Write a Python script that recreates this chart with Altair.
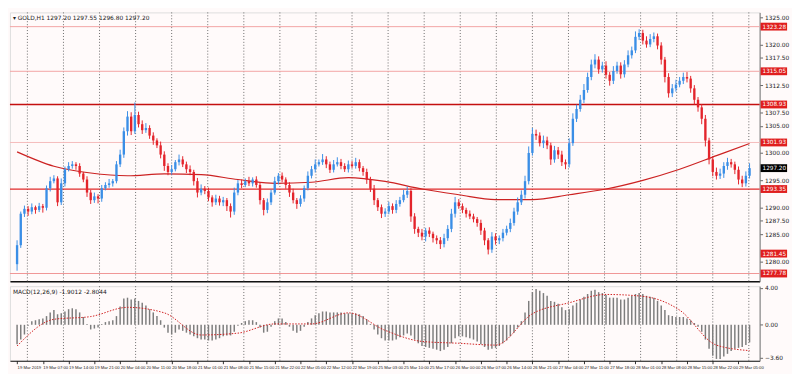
import altair as alt
import pandas as pd

W, H1, H2 = 764, 274, 76
BG = "#fffafa"
BLUE = "#3a8ee6"
RED = "#e3242b"
FONT = "DejaVu Sans"
SMALL = "Liberation Sans"

header = "\u25be GOLD,H1  1297.20 1297.55 1296.80 1297.20"
macd_header = "MACD(12,26,9) -1.9012 -2.8044"

first_open = 1279.5
closes = [
    1283.0, 1288.8, 1289.7, 1289.2, 1290.0, 1289.5, 1290.2, 1289.9, 1293.5, 1294.8,
    1295.3, 1290.9, 1294.4, 1297.0, 1297.6, 1297.9, 1297.6, 1296.2, 1295.1, 1292.7,
    1291.3, 1292.0, 1291.6, 1293.5, 1294.1, 1294.4, 1294.8, 1297.9, 1299.7, 1304.0,
    1306.7, 1304.0, 1307.0, 1305.3, 1304.2, 1304.6, 1303.2, 1302.3, 1301.4, 1299.7,
    1297.6, 1296.5, 1297.0, 1298.3, 1298.8, 1297.9, 1297.0, 1296.5, 1294.8, 1292.7,
    1293.4, 1293.0, 1291.8, 1290.9, 1291.6, 1290.9, 1291.3, 1290.2, 1289.2, 1292.7,
    1294.4, 1294.1, 1294.8, 1294.4, 1295.1, 1294.1, 1291.3, 1289.5, 1290.9, 1292.7,
    1294.8, 1295.8, 1295.1, 1294.1, 1292.7, 1291.3, 1290.6, 1291.6, 1293.5, 1295.8,
    1297.0, 1297.9, 1298.3, 1298.8, 1297.9, 1296.9, 1297.9, 1298.3, 1297.6, 1297.0,
    1297.9, 1297.6, 1298.3, 1297.2, 1296.5, 1295.1, 1293.4, 1291.3, 1290.0, 1288.8,
    1289.2, 1290.2, 1289.5, 1290.6, 1291.3, 1292.3, 1293.0, 1288.3, 1286.0, 1285.3,
    1284.6, 1285.7, 1285.1, 1284.3, 1283.9, 1283.2, 1284.3, 1286.0, 1288.8, 1290.9,
    1290.2, 1289.5, 1288.8, 1288.3, 1287.8, 1287.1, 1285.7, 1283.9, 1282.2, 1284.6,
    1283.9, 1284.3, 1285.3, 1286.0, 1287.1, 1289.2, 1290.9, 1292.3, 1294.8, 1300.0,
    1303.5, 1303.2, 1301.8, 1302.3, 1301.4, 1298.8, 1300.5, 1299.7, 1298.3, 1297.9,
    1301.8, 1306.3, 1308.1, 1309.8, 1311.6, 1314.0, 1316.3, 1317.2, 1315.4, 1316.1,
    1314.4, 1313.3, 1315.1, 1316.1, 1314.5, 1316.3, 1318.0, 1318.9, 1321.4, 1322.1,
    1320.7, 1320.0, 1321.0, 1321.5, 1319.8, 1317.2, 1314.0, 1311.0, 1311.9, 1312.6,
    1313.3, 1314.0, 1313.7, 1311.9, 1309.8, 1308.4, 1306.3, 1302.3, 1298.8, 1296.5,
    1295.8, 1296.2, 1297.6, 1298.3, 1297.9, 1296.9, 1295.1, 1294.4, 1295.8, 1297.2,
]
wick_up = [
    0.9, 0.4, 0.6, 0.5, 0.7, 0.3, 0.6, 0.4, 0.5, 0.8, 0.6, 0.4, 0.9, 0.5, 0.7, 0.6, 0.4, 0.5, 0.3, 0.6,
    0.5, 0.7, 0.4, 0.6, 0.5, 0.8, 0.4, 0.6, 0.9, 0.7, 1.0, 0.8, 2.3, 0.6, 0.7, 0.9, 0.5, 0.6, 0.4, 0.7,
    0.6, 0.5, 0.8, 0.4, 0.9, 0.6, 0.5, 0.7, 0.4, 0.6, 0.8, 0.5, 0.6, 0.4, 0.7, 0.5, 0.6, 0.4, 0.5, 0.9,
    0.6, 0.7, 0.5, 0.8, 0.4, 0.6, 0.5, 0.4, 0.7, 0.6, 0.8, 0.5, 0.6, 0.4, 0.5, 0.7, 0.4, 0.6, 0.5, 0.8,
    0.6, 0.9, 0.5, 1.0, 0.6, 0.5, 0.8, 0.9, 0.6, 0.5, 0.7, 0.6, 0.8, 0.5, 0.4, 0.6, 0.5, 0.7, 0.4, 0.5,
    0.6, 0.8, 0.5, 0.7, 0.6, 0.9, 0.8, 0.5, 0.6, 0.4, 0.7, 0.5, 0.6, 0.4, 0.5, 0.6, 0.8, 0.7, 0.9, 1.0,
    0.6, 0.5, 0.4, 0.6, 0.5, 0.4, 0.6, 0.5, 0.4, 0.8, 0.6, 0.5, 0.7, 0.6, 0.8, 0.7, 0.9, 0.8, 1.0, 1.2,
    1.1, 0.8, 0.6, 0.9, 0.7, 0.5, 0.8, 0.6, 0.7, 0.5, 0.9, 1.0, 0.8, 0.9, 1.1, 0.8, 0.9, 1.0, 0.6, 0.7,
    0.8, 0.5, 0.9, 0.7, 0.6, 0.8, 0.9, 0.7, 1.0, 0.7, 0.6, 0.8, 0.9, 0.7, 0.5, 0.6, 0.5, 0.7, 0.8, 0.9,
    0.7, 0.8, 0.9, 0.5, 0.6, 0.5, 0.6, 0.7, 0.5, 0.6, 0.8, 0.9, 0.7, 0.8, 0.6, 0.5, 0.6, 0.7, 0.8, 0.9,
]
wick_dn = [
    1.2, 0.5, 0.6, 0.8, 0.5, 0.7, 0.4, 0.9, 0.5, 0.6, 0.4, 0.7, 0.5, 0.6, 0.4, 0.5, 0.7, 0.6, 0.5, 0.8,
    0.7, 0.5, 0.9, 0.6, 0.4, 0.5, 0.6, 0.4, 0.5, 0.6, 0.8, 0.7, 0.5, 0.6, 0.7, 0.5, 0.6, 0.8, 0.5, 0.7,
    0.9, 0.6, 0.5, 0.4, 0.6, 0.5, 0.7, 0.6, 0.8, 0.9, 0.5, 0.6, 0.7, 0.8, 0.5, 0.6, 0.7, 0.9, 1.1, 0.6,
    0.5, 0.6, 0.4, 0.5, 0.6, 0.5, 0.8, 1.0, 0.6, 0.5, 0.4, 0.6, 0.5, 0.7, 0.8, 0.6, 0.9, 0.5, 0.6, 0.4,
    0.5, 0.6, 0.4, 0.5, 0.7, 0.6, 0.5, 0.4, 0.6, 0.5, 0.6, 0.4, 0.5, 0.6, 0.7, 0.8, 0.6, 0.9, 0.7, 0.8,
    0.6, 0.5, 0.7, 0.6, 0.5, 0.4, 0.6, 1.0, 0.9, 0.8, 0.7, 0.9, 0.6, 0.8, 0.7, 0.9, 0.6, 0.5, 0.6, 0.7,
    0.5, 0.6, 0.7, 0.5, 0.6, 0.7, 0.8, 0.9, 0.9, 0.6, 0.8, 0.7, 0.6, 0.5, 0.6, 0.5, 0.6, 0.5, 0.7, 0.6,
    0.5, 0.8, 0.6, 0.9, 0.7, 1.0, 0.6, 0.8, 0.7, 0.9, 0.6, 0.5, 0.6, 0.5, 0.6, 0.5, 0.6, 0.7, 0.8, 0.6,
    0.7, 0.9, 0.6, 0.5, 0.8, 0.6, 0.5, 0.6, 0.5, 0.6, 0.7, 0.6, 0.5, 0.6, 0.7, 0.9, 1.0, 0.8, 0.7, 0.6,
    0.5, 0.6, 0.7, 0.8, 0.9, 0.8, 1.0, 1.1, 0.9, 0.8, 0.7, 0.6, 0.8, 0.7, 0.6, 0.8, 0.9, 0.7, 0.6, 0.5,
]
ma_idx = [0, 10, 20, 30, 40, 50, 60, 70, 80, 90, 100, 110, 120, 130, 140, 150, 160, 170, 180, 190, 199]
ma_vals = [1300.2, 1297.55, 1296.3, 1295.8, 1296.15, 1296.0, 1295.1, 1294.4, 1294.6, 1295.45,
           1294.75, 1293.35, 1292.3, 1291.4, 1291.4, 1292.3, 1293.35, 1294.95, 1297.0, 1299.5, 1301.75]

macd = [
    -2.1, -1.6, -1.05, -0.1, 0.4, 0.5, 0.6, 0.7, 0.95, 1.35,
    1.6, 1.15, 1.25, 1.45, 1.7, 1.8, 1.7, 1.35, 0.85, 0.1,
    -0.5, -0.4, -0.3, 0.1, 0.3, 0.4, 0.5, 0.95, 2.0, 2.85,
    2.95, 2.75, 2.85, 2.6, 2.4, 2.1, 1.7, 1.35, 0.95, 0.5,
    -0.3, -0.85, -1.05, -0.85, -0.5, -0.65, -0.85, -1.05, -1.25, -1.45,
    -1.6, -1.6, -1.7, -1.7, -1.6, -1.45, -1.25, -1.15, -1.15, -0.75,
    -0.1, 0.2, 0.4, 0.5, 0.5, 0.3, -0.3, -0.85, -0.75, -0.2,
    0.4, 0.7, 0.7, 0.3, -0.2, -0.65, -0.85, -0.65, -0.2, 0.3,
    0.7, 1.05, 1.25, 1.45, 1.45, 1.35, 1.35, 1.35, 1.35, 1.25,
    1.25, 1.25, 1.25, 1.15, 0.95, 0.6, 0.1, -0.5, -1.05, -1.45,
    -1.7, -1.7, -1.7, -1.6, -1.35, -1.15, -0.95, -1.15, -1.6, -2.0,
    -2.3, -2.4, -2.5, -2.6, -2.7, -2.85, -2.7, -2.4, -2.0, -1.45,
    -1.25, -1.25, -1.35, -1.45, -1.6, -1.8, -2.1, -2.4, -2.7, -2.6,
    -2.5, -2.3, -2.0, -1.7, -1.25, -0.85, -0.3, 0.4, 1.35, 2.6,
    3.55, 3.9, 3.7, 3.45, 3.15, 2.6, 2.5, 2.3, 1.9, 1.6,
    1.7, 2.1, 2.4, 2.75, 3.05, 3.35, 3.7, 3.8, 3.55, 3.45,
    3.25, 2.95, 2.95, 2.95, 2.75, 2.75, 2.95, 3.15, 3.35, 3.45,
    3.35, 3.15, 3.05, 2.95, 2.6, 2.1, 1.6, 1.05, 0.95, 0.85,
    0.85, 0.85, 0.7, 0.5, 0.2, -0.2, -0.75, -1.6, -2.6, -3.35,
    -3.7, -3.7, -3.45, -3.15, -2.85, -2.6, -2.5, -2.4, -2.2, -1.9,
]
sig_idx = [0, 10, 20, 30, 40, 50, 60, 70, 80, 90, 100, 110, 120, 130, 140, 150, 160, 170, 180, 190, 199]
signal = [-2.3, 0.6, 0.9, 1.9, 1.3, -1.1, -0.9, 0.1, 0.1, 1.3, -0.6, -1.8, -2.0, -2.2, 1.2, 2.4, 3.3, 3.1, 1.6, -2.2, -2.8]

levels = [1323.28, 1315.05, 1308.93, 1301.93, 1293.35, 1281.45, 1277.78]
level_colors = ["#f2a3a3", "#f2a3a3", "#c40f0f", "#f5bcbc", "#e02a2a", "#fffafa", "#f09595"]
level_widths = [1, 1, 1.6, 1, 1.3, 0, 1]

price_ticks = [1280.0, 1285.0, 1287.5, 1290.0, 1295.0, 1300.0,
               1305.0, 1307.5, 1312.5, 1317.5, 1320.0, 1325.0]
grid_idx = [2.8, 12.6, 22.4, 32.2, 42.0, 51.8, 61.6, 71.4, 81.2, 91.0, 100.8, 110.6, 120.4,
            130.2, 140.0, 149.8, 159.6, 169.4, 179.2, 189.0, 198.8]
date_ticks = list(range(0, 200, 7))
date_labels = ["19 Mar 2019", "19 Mar 07:00", "19 Mar 14:00", "19 Mar 21:00", "20 Mar 04:00",
               "20 Mar 11:00", "20 Mar 18:00", "21 Mar 01:00", "21 Mar 08:00", "21 Mar 15:00",
               "21 Mar 22:00", "22 Mar 05:00", "22 Mar 12:00", "22 Mar 19:00", "25 Mar 03:00",
               "25 Mar 10:00", "25 Mar 17:00", "26 Mar 00:00", "26 Mar 07:00", "26 Mar 14:00",
               "26 Mar 21:00", "27 Mar 04:00", "27 Mar 11:00", "27 Mar 18:00", "28 Mar 01:00",
               "28 Mar 08:00", "28 Mar 15:00", "28 Mar 22:00", "29 Mar 05:00"]

# ---------- tables ----------
opens = [first_open] + closes[:-1]
rows = []
for i, (o, c, u, d) in enumerate(zip(opens, closes, wick_up, wick_dn)):
    rows.append(dict(i=i, open=o, close=c, high=max(o, c) + u, low=min(o, c) - d,
                     dir="up" if c >= o else "down"))
df = pd.DataFrame(rows)
ma_df = pd.DataFrame({"i": ma_idx, "ma": ma_vals})
lev_df = pd.DataFrame({"level": levels, "lc": level_colors, "lw": level_widths})
last_df = pd.DataFrame({"level": [closes[-1]]})
grid_df = pd.DataFrame({"i": grid_idx})
macd_df = pd.DataFrame({"i": list(range(len(macd))), "m": macd})
sig_df = pd.DataFrame({"i": sig_idx, "m": signal})

xscale = alt.Scale(domain=[-0.6, 200.4], nice=False, zero=False)
yscale = alt.Scale(domain=[1276.35, 1325.9], nice=False, zero=False)
mscale = alt.Scale(domain=[-3.9, 4.2], nice=False, zero=False)

x_axis_main = alt.Axis(labels=False, ticks=False, grid=False, domain=True,
                       domainColor="#111111", domainWidth=1.5, title=None)
y_axis_main = alt.Axis(orient="right", values=price_ticks, format=".2f", labelFontSize=6,
                       labelColor="#222222", tickSize=3, tickColor="#666666", grid=False,
                       domain=True, domainColor="#777777", title=None, labelPadding=2,
                       labelFont=FONT)

def X(field="i"):
    return alt.X(f"{field}:Q", scale=xscale, axis=x_axis_main)

def Y(field):
    return alt.Y(f"{field}:Q", scale=yscale, axis=y_axis_main)

grid_main = alt.Chart(grid_df).mark_rule(color="#6a6a6a", strokeDash=[1, 2], strokeWidth=1).encode(x=X())

lev_rules = alt.Chart(lev_df).mark_rule().encode(
    y=Y("level"), color=alt.Color("lc:N", scale=None), strokeWidth=alt.StrokeWidth("lw:Q", scale=None))

ma_line = alt.Chart(ma_df).mark_line(color="#cc2222", strokeWidth=1.2, interpolate="monotone").encode(
    x=X(), y=Y("ma"))

cscale = alt.Scale(domain=["up", "down"], range=[BLUE, RED])
wicks = alt.Chart(df).mark_rule(strokeWidth=1).encode(
    x=X(), y=Y("low"), y2="high:Q", color=alt.Color("dir:N", scale=cscale, legend=None))
bodies = alt.Chart(df).mark_bar(size=2.4).encode(
    x=X(), y=Y("open"), y2="close:Q", color=alt.Color("dir:N", scale=cscale, legend=None))

lev_boxes = alt.Chart(lev_df).mark_rule(color="#e01e1e", strokeWidth=8).encode(
    y=Y("level"), x=alt.value(W + 1), x2=alt.value(W + 28))
lev_text = alt.Chart(lev_df).mark_text(color="white", fontSize=5.8, align="left", baseline="middle",
                                      font=FONT).encode(
    y=Y("level"), x=alt.value(W + 3), text=alt.Text("level:Q", format=".2f"))
cur_box = alt.Chart(last_df).mark_rule(color="#000000", strokeWidth=8).encode(
    y=Y("level"), x=alt.value(W + 1), x2=alt.value(W + 28))
cur_text = alt.Chart(last_df).mark_text(color="white", fontSize=5.8, align="left", baseline="middle",
                                       font=FONT).encode(
    y=Y("level"), x=alt.value(W + 3), text=alt.Text("level:Q", format=".2f"))

head = alt.Chart(pd.DataFrame({"t": [header]})).mark_text(
    align="left", baseline="middle", fontSize=6, color="#222222", font=FONT).encode(
    text="t:N", x=alt.value(3), y=alt.value(6))

main = alt.layer(grid_main, lev_rules, ma_line, wicks, bodies, lev_boxes, lev_text, cur_box,
                 cur_text, head).properties(width=W, height=H1)

# ---------- MACD pane ----------
label_expr = "[" + ",".join("'" + s + "'" for s in date_labels) + "][round(datum.value / 7)]"
x_axis_macd = alt.Axis(values=date_ticks, labelExpr=label_expr, labelFontSize=4.3,
                       labelAlign="left", labelColor="#222222", labelPadding=2, tickSize=3,
                       tickColor="#333333", grid=False, domain=True, domainColor="#111111",
                       domainWidth=1.2, title=None, labelFont=SMALL, labelOverlap=False)
y_axis_macd = alt.Axis(orient="right", values=[4.0, 0.0, -3.6], format=".2f", labelFontSize=6,
                       labelColor="#222222", tickSize=3, tickColor="#666666", grid=False,
                       domain=True, domainColor="#777777", title=None, labelPadding=2,
                       labelFont=FONT)

def XM():
    return alt.X("i:Q", scale=xscale, axis=x_axis_macd)

def YM():
    return alt.Y("m:Q", scale=mscale, axis=y_axis_macd)

grid_macd = alt.Chart(grid_df).mark_rule(color="#6a6a6a", strokeDash=[1, 2], strokeWidth=1).encode(x=XM())
hist = alt.Chart(macd_df).mark_bar(size=1.5, color="#7d7d7d").encode(x=XM(), y=YM())
sig = alt.Chart(sig_df).mark_line(color="#d02020", strokeDash=[1.5, 1.5], strokeWidth=1,
                                 interpolate="monotone").encode(x=XM(), y=YM())
mhead = alt.Chart(pd.DataFrame({"t": [macd_header]})).mark_text(
    align="left", baseline="middle", fontSize=6, color="#222222", font=FONT).encode(
    text="t:N", x=alt.value(3), y=alt.value(6))

macd_chart = alt.layer(grid_macd, hist, sig, mhead).properties(width=W, height=H2)

chart = alt.vconcat(main, macd_chart, spacing=2).resolve_scale(
    x="independent", y="independent", color="independent"
).properties(padding=0, background=BG).configure_view(stroke=None, fill=BG).configure(font=FONT)

chart.save("out.html", embed_options={"renderer": "svg", "actions": False})
